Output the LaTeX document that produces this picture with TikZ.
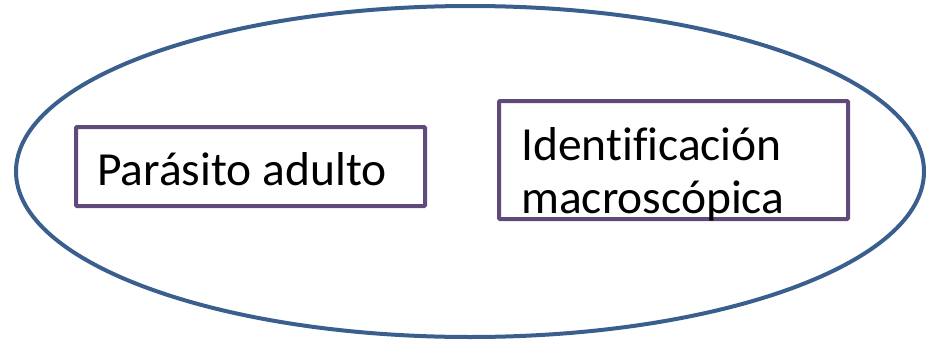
\documentclass[tikz,border=0pt]{standalone}
\usepackage{fontspec}
\setmainfont[Ligatures=NoCommon]{Carlito}
\definecolor{ellblue}{HTML}{3A5F8E}
\definecolor{boxpurple}{HTML}{604A7B}
\tikzset{
  outline/.style={draw=ellblue, line width=4pt},
  rectbox/.style={draw=boxpurple, line width=4pt, rounded corners=1pt},
  label/.style={anchor=base west, inner sep=0pt, font=\fontsize{47.5}{52}\selectfont}
}
\begin{document}
\begin{tikzpicture}[x=1pt,y=-1pt]
\useasboundingbox (0,0) rectangle (932,343);
\draw[outline] (470,171.5) ellipse [x radius=454, y radius=165.5];
\draw[rectbox] (76,127) rectangle (425,206);
\draw[rectbox] (499,101) rectangle (848,219);
\node[label] (t1) at (97,185) {Parásito adulto};
\node[label] (t2) at (521,160) {Identificación};
\node[label] (t3) at (521,213) {macroscópica};
\end{tikzpicture}
\end{document}
